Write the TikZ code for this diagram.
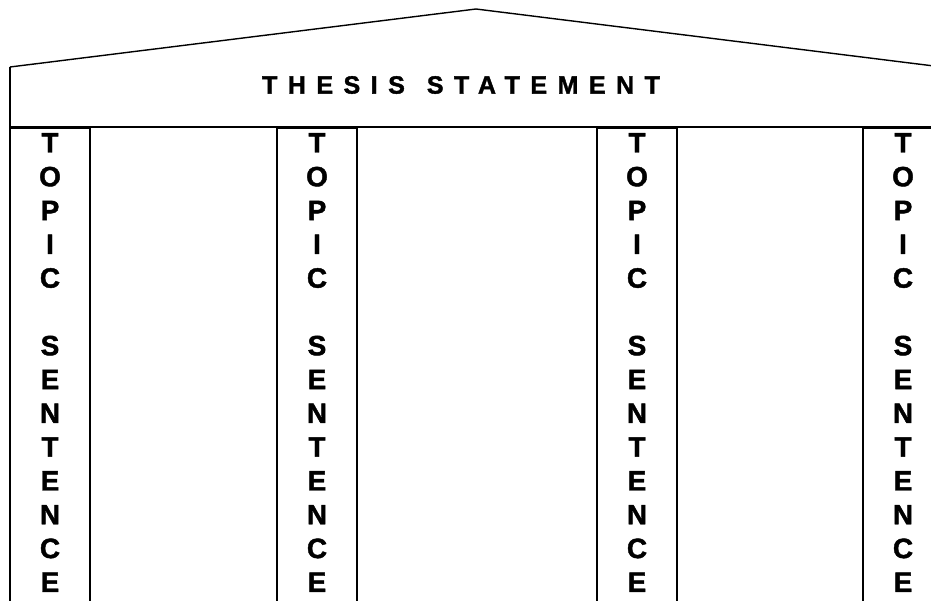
\documentclass[tikz,border=0pt]{standalone}
\usepackage{fontspec}
\setmainfont{Liberation Sans}
\newfontfamily\pillarfont{Liberation Sans}[UprightFont={* Bold},FakeBold=1.5]
\usetikzlibrary{positioning}

\begin{document}
\begin{tikzpicture}[
    x=1pt,y=-1pt,
    line/.style={draw=black,line width=1.6pt},
    roof/.style={draw=black,line width=1.4pt,line join=miter},
    pillar/.style={line,minimum width=80pt,minimum height=520pt,anchor=north,inner sep=0pt},
    pillartext/.style={font=\pillarfont\fontsize{28}{33.8}\selectfont,align=center,anchor=north,inner sep=0pt},
    thesistext/.style={font=\pillarfont\fontsize{25}{28}\selectfont}
]
\useasboundingbox (0,0) rectangle (931,600);
\clip (0,0) rectangle (931,600);
% roof and beam
\coordinate (eaveL) at (10,67);
\coordinate (peak) at (476,9);
\coordinate (eaveR) at (942,67);
\coordinate (beamL) at (10,127);
\coordinate (beamR) at (942,127);
\draw[roof] (eaveL) -- (peak) -- (eaveR);
\draw[line] (eaveL) -- (beamL) -- (beamR) -- (eaveR);
\node[thesistext] (thesis) at (461,85) {\addfontfeature{LetterSpace=42}THESIS\hspace{22pt}STATEMENT};
% pillars
\foreach \px/\name in {50/p1,317/p2,637/p3,903/p4}{
  \node[pillar] (\name) at (\px,127) {};
  \node[pillartext,below=6pt of \name.north] (\name text) {T\\O\\P\\I\\C\\[33.8pt]S\\E\\N\\T\\E\\N\\C\\E};
}
\end{tikzpicture}
\end{document}
